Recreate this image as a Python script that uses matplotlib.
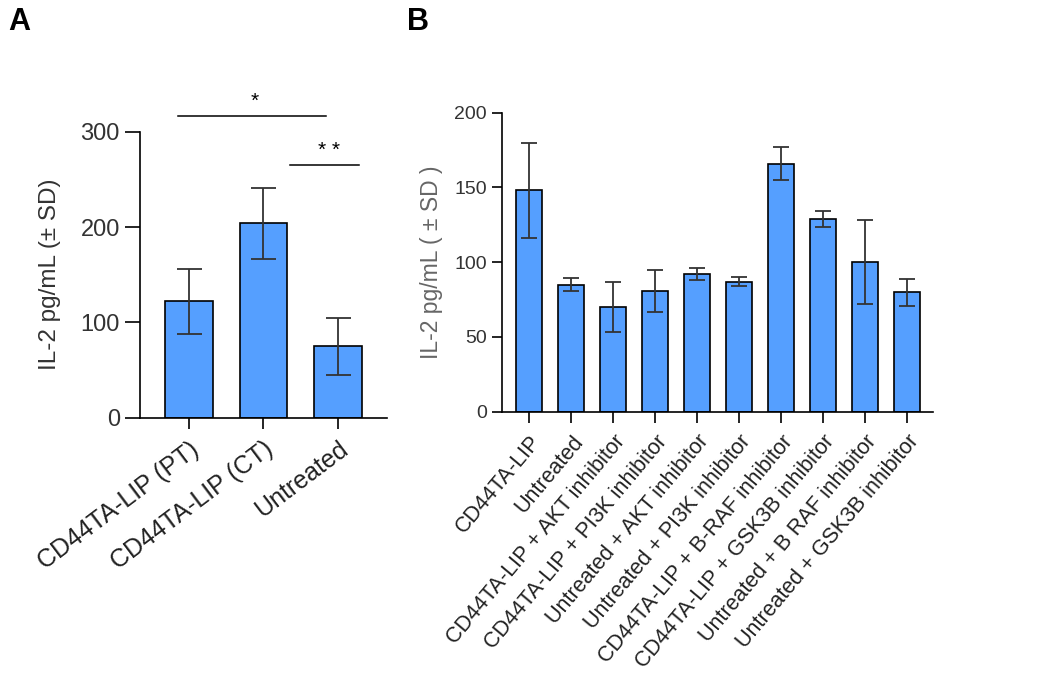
import numpy as np
import matplotlib
matplotlib.use("Agg")
import matplotlib.pyplot as plt

plt.rcParams['font.family'] = ['Liberation Sans', 'DejaVu Sans']

# Panel A
grupos_a = ['CD44TA-LIP (PT)', 'CD44TA-LIP (CT)', 'Untreated']
media_a = [122, 204, 75]
sd_a = [34, 37, 30]

# Panel B
grupos_b = ['CD44TA-LIP', 'Untreated', 'CD44TA-LIP + AKT inhibitor',
            'CD44TA-LIP + PI3K inhibitor', 'Untreated + AKT inhibitor',
            'Untreated + PI3K inhibitor', 'CD44TA-LIP + B-RAF inhibitor',
            'CD44TA-LIP + GSK3B inhibitor', 'Untreated + B RAF inhibitor',
            'Untreated + GSK3B inhibitor']
media_b = [148, 85, 70, 81, 92, 87, 166, 129, 100, 80]
sd_b = [32, 4.5, 17, 14, 3.8, 3.2, 11, 5.5, 28, 9]

color_barra = '#559FFF'
color_texto = '#222222'

fig = plt.figure(figsize=(10.5, 6.79), dpi=100)

# ---- Panel A ----
axA = fig.add_axes([0.1333, 0.3848, 0.2353, 0.4212])
xa = np.arange(len(grupos_a))
axA.bar(xa, media_a, width=0.64, color=color_barra, edgecolor='black', linewidth=1.2)
axA.errorbar(xa, media_a, yerr=sd_a, fmt='none', ecolor='#333333',
             elinewidth=1.3, capsize=9, capthick=1.3)
axA.set_xlim(-0.66, 2.66)
axA.set_ylim(0, 300)
axA.set_yticks([0, 100, 200, 300])
axA.set_xticks(xa)
axA.set_xticklabels(grupos_a, rotation=37, ha='right', rotation_mode='anchor',
                    fontsize=18, color=color_texto)
axA.tick_params(axis='y', labelsize=17, labelcolor='#333333', length=11, width=1.2)
axA.tick_params(axis='x', length=8, width=1.2, pad=6)
axA.set_ylabel('IL-2 pg/mL (± SD)', fontsize=17.5, color='#333333', labelpad=14)
for s in ['top', 'right']:
    axA.spines[s].set_visible(False)
for s in ['left', 'bottom']:
    axA.spines[s].set_linewidth(1.2)

# significancia
axA.plot([-0.15, 1.84], [316.6, 316.6], color='black', lw=1.1, clip_on=False)
axA.text(0.875, 322, '*', ha='center', va='bottom', fontsize=15, color='black')
axA.plot([1.35, 2.28], [265, 265], color='black', lw=1.1, clip_on=False)
axA.text(1.88, 270, '* *', ha='center', va='bottom', fontsize=15, color='black')

# ---- Panel B ----
axB = fig.add_axes([0.4778, 0.3937, 0.4111, 0.4403])
xb = np.arange(len(grupos_b))
axB.bar(xb, media_b, width=0.62, color=color_barra, edgecolor='black', linewidth=1.2)
axB.errorbar(xb, media_b, yerr=sd_b, fmt='none', ecolor='#333333',
             elinewidth=1.3, capsize=5.5, capthick=1.3)
axB.set_xlim(-0.66, 9.63)
axB.set_ylim(0, 200)
axB.set_yticks([0, 50, 100, 150, 200])
axB.set_xticks(xb)
axB.set_xticklabels(grupos_b, rotation=50, ha='right', rotation_mode='anchor',
                    fontsize=15.5, color=color_texto)
axB.tick_params(axis='y', labelsize=14, labelcolor='#333333', length=7, width=1.2)
axB.tick_params(axis='x', length=8, width=1.2, pad=6)
axB.set_ylabel('IL-2 pg/mL ( ± SD )', fontsize=16.5, color='#666666', labelpad=8)
for s in ['top', 'right']:
    axB.spines[s].set_visible(False)
for s in ['left', 'bottom']:
    axB.spines[s].set_linewidth(1.2)

fig.text(0.008, 0.945, 'A', fontsize=22, fontweight='bold', va='bottom')
fig.text(0.388, 0.945, 'B', fontsize=22, fontweight='bold', va='bottom')

fig.savefig('out.png', dpi=100)
